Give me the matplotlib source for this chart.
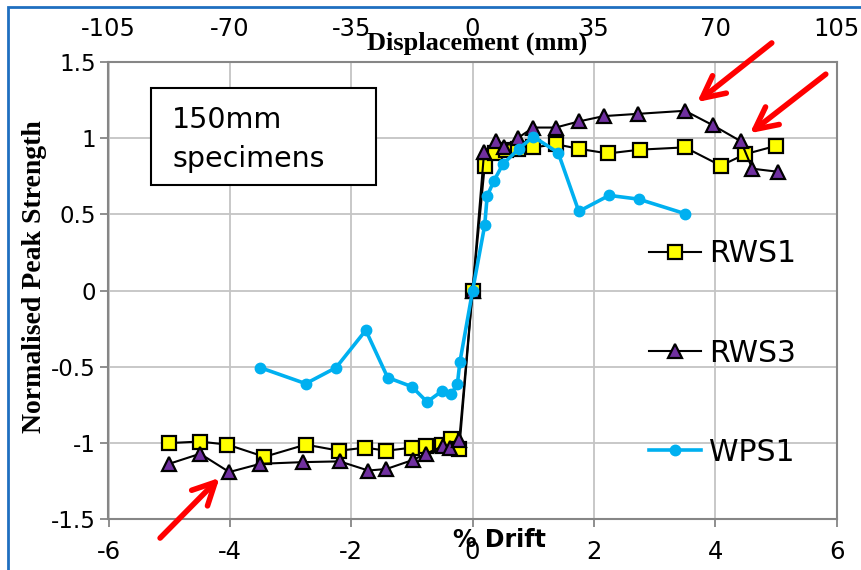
import matplotlib
matplotlib.use("Agg")
import matplotlib.pyplot as plt
from matplotlib.patches import Rectangle

# ---- data: % drift vs normalised peak strength ----
rws1_x = [-5.0, -4.5, -4.04, -3.43, -2.75, -2.2, -1.77, -1.42, -1.0, -0.77, -0.51, -0.35, -0.22,
          0.0, 0.2, 0.37, 0.55, 0.75, 1.0, 1.38, 1.76, 2.23, 2.76, 3.5, 4.09, 4.49, 5.0]
rws1_y = [-1.0, -0.99, -1.01, -1.09, -1.01, -1.05, -1.03, -1.05, -1.03, -1.02, -1.01, -0.97, -1.04,
          0.0, 0.82, 0.9, 0.92, 0.93, 0.94, 0.96, 0.93, 0.9, 0.925, 0.94, 0.82, 0.895, 0.95]

rws3_x = [-5.0, -4.49, -4.01, -3.5, -2.8, -2.19, -1.72, -1.42, -0.98, -0.77, -0.49, -0.37, -0.22,
          0.0, 0.19, 0.38, 0.52, 0.74, 1.0, 1.37, 1.75, 2.16, 2.73, 3.5, 3.96, 4.42, 4.61, 5.03]
rws3_y = [-1.136, -1.07, -1.19, -1.136, -1.125, -1.12, -1.18, -1.17, -1.11, -1.07, -1.02, -1.03, -0.98,
          0.0, 0.91, 0.98, 0.94, 1.0, 1.07, 1.07, 1.11, 1.145, 1.16, 1.18, 1.085, 0.98, 0.80, 0.78]

wps1_x = [-3.5, -2.75, -2.25, -1.76, -1.4, -1.0, -0.75, -0.51, -0.35, -0.25, -0.21,
          0.0, 0.2, 0.24, 0.35, 0.5, 0.76, 1.0, 1.41, 1.75, 2.25, 2.74, 3.5]
wps1_y = [-0.505, -0.61, -0.505, -0.26, -0.57, -0.63, -0.73, -0.66, -0.68, -0.61, -0.47,
          0.0, 0.43, 0.62, 0.72, 0.83, 0.93, 1.01, 0.905, 0.52, 0.625, 0.60, 0.505]

drift_ticks = [-6, -4, -2, 0, 2, 4, 6]
disp_ticks = [-105, -70, -35, 0, 35, 70, 105]
strength_ticks = [-1.5, -1, -0.5, 0, 0.5, 1, 1.5]
mm_per_drift = 17.5

W, H = 861, 570
fig = plt.figure(figsize=(W / 100, H / 100), dpi=100)
fig.patch.set_facecolor("white")


def fx(px):
    return px / W


def fy(py):
    return 1 - py / H


ax = fig.add_axes([fx(108.5), fy(519.3), fx(836.7) - fx(108.5), fy(62) - fy(519.3)])

spine_c = "#868686"
grid_c = "#c4c4c4"

ax.plot(rws1_x, rws1_y, color="black", lw=1.5, marker="s", ms=10.5,
        mfc="#ffff00", mec="black", mew=1.6, label="RWS1", zorder=3)
ax.plot(rws3_x, rws3_y, color="black", lw=1.5, marker="^", ms=10.5,
        mfc="#7030a0", mec="black", mew=1.6, label="RWS3", zorder=4)
ax.plot(wps1_x, wps1_y, color="#00b0f0", lw=2.6, marker="o", ms=7.5,
        mfc="#00b0f0", mec="#00b0f0", label="WPS1", zorder=5)

ax.set_xlim(-6, 6)
ax.set_ylim(-1.5, 1.5)
ax.set_xticks(drift_ticks)
ax.set_yticks(strength_ticks)
ax.set_xticklabels([f"{t:g}" for t in drift_ticks])
ax.set_yticklabels([f"{t:g}" for t in strength_ticks])
ax.grid(True, color=grid_c, lw=1.3, zorder=0)
ax.set_axisbelow(True)
for s in ax.spines.values():
    s.set_color(spine_c)
    s.set_linewidth(1.5)
ax.tick_params(axis="x", direction="out", length=6, width=1.3, color=spine_c,
               labelsize=17.5, pad=9, labelcolor="black")
ax.tick_params(axis="y", direction="out", length=6, width=1.3, color=spine_c,
               labelsize=16.5, pad=3, labelcolor="black")

top = ax.secondary_xaxis("top", functions=(lambda x: x * mm_per_drift,
                                            lambda x: x / mm_per_drift))
top.set_xticks(disp_ticks)
top.set_xticklabels([f"{t:g}" for t in disp_ticks])
top.tick_params(axis="x", length=0, labelsize=17.5, pad=15)
top.spines["top"].set_visible(False)

# axis titles
fig.text(fx(477), fy(43), "Displacement (mm)", family="Liberation Serif",
         weight="bold", fontsize=19, ha="center", va="center")
fig.text(fx(35), fy(277), "Normalised Peak Strength", family="Liberation Serif",
         weight="bold", fontsize=20, ha="center", va="center", rotation=90)
fig.text(fx(499), fy(540), "% Drift", family="DejaVu Sans", weight="bold",
         fontsize=17, ha="center", va="center")

# specimen note box
ax.add_patch(Rectangle((fx(151), fy(185)), fx(376) - fx(151), fy(88) - fy(185),
                       transform=fig.transFigure, facecolor="white",
                       edgecolor="black", lw=1.5, zorder=6, clip_on=False))
ax.text(fx(172), fy(128), "150mm", transform=fig.transFigure, fontsize=20.5,
        va="baseline", ha="left", zorder=7)
ax.text(fx(172), fy(167), "specimens", transform=fig.transFigure, fontsize=20.5,
        va="baseline", ha="left", zorder=7)

# legend
fig.legend(loc="center left", bbox_to_anchor=(fx(649), fy(353)),
           frameon=False, fontsize=21.5, handlelength=1.75,
           handletextpad=0.25, labelspacing=2.35, borderpad=0,
           borderaxespad=0)

# red arrows pointing at notable peaks
arrows = [((3.70, 1.237), (4.93, 1.625)),
          ((4.57, 1.033), (5.82, 1.42)),
          ((-4.17, -1.228), (-5.15, -1.623))]
for tip, tail in arrows:
    ax.annotate("", xy=tip, xytext=tail, xycoords="data", textcoords="data",
                annotation_clip=False, zorder=8,
                arrowprops=dict(arrowstyle="->,head_length=1.6,head_width=0.8",
                                color="#ff0000", lw=4, shrinkA=0, shrinkB=0,
                                mutation_scale=10))

# outer frame
fig.add_artist(Rectangle((fx(8), -0.05), 1.1, fy(7) + 0.05,
                         transform=fig.transFigure, fill=False,
                         edgecolor="#1f6fc0", lw=2))

fig.savefig("out.png", dpi=100)
